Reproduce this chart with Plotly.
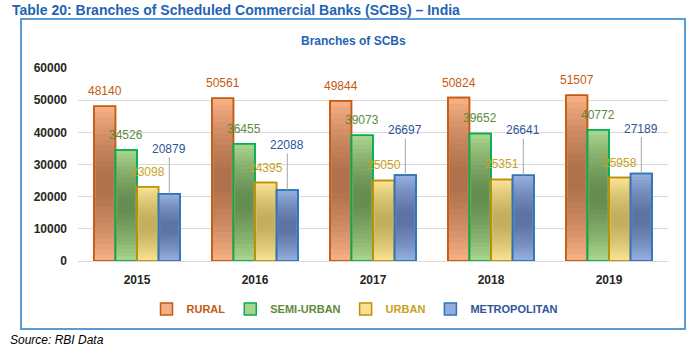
import plotly.graph_objects as go

years = ["2015", "2016", "2017", "2018", "2019"]
series_names = ["RURAL", "SEMI-URBAN", "URBAN", "METROPOLITAN"]
rural = [48140, 50561, 49844, 50824, 51507]
semi_urban = [34526, 36455, 39073, 39652, 40772]
urban = [23098, 24395, 25050, 25351, 25958]
metropolitan = [20879, 22088, 26697, 26641, 27189]
y_ticks = [0, 10000, 20000, 30000, 40000, 50000, 60000]

series_values = [rural, semi_urban, urban, metropolitan]
fills = ["#F5AD82", "#A8D38C", "#F8E194", "#93AEDE"]
shades = ["120,60,30", "50,90,40", "150,130,50", "50,70,120"]
borders = ["#C55A11", "#00B050", "#BF9000", "#2E75B6"]
label_colors = ["#C55A11", "#5E8A3A", "#C9A020", "#2F5597"]

W, H = 695, 352
L, R, T, B = 78, 27, 68, 91
pw, ph = W - L - R, H - T - B
bargap = 0.27
FONT = "Liberation Sans, Arial"

def px_x(px):
    return (px - L) / pw

def px_y(py):
    return (H - B - py) / ph

n = len(series_names)
gw = 1 - bargap
bw = gw / n
xi = list(range(len(years)))

# shading layers (style only): (height fraction, width fraction)
NL = 12
layers = [(0.92 - k * 0.07, 1.0 - k * 0.02) for k in range(NL)]

fig = go.Figure()
for i, (name, vals, f, b, lc, sh) in enumerate(zip(series_names, series_values, fills, borders, label_colors, shades)):
    left = -gw / 2 + i * bw
    fig.add_trace(go.Bar(
        x=xi, y=vals, offset=left, width=bw,
        name=f"<span style='color:{lc}'><b>{name}</b></span>",
        marker=dict(color=f, line=dict(color=b, width=1.5)),
        hoverinfo="y",
    ))
    for hf, wf in layers:
        fig.add_trace(go.Bar(
            x=xi, y=[v * hf for v in vals], base=[v * (0.5 - hf / 2) for v in vals],
            offset=left + bw * (1 - wf) / 2, width=bw * wf,
            marker=dict(color=f"rgba({sh},0.06)", line=dict(width=0)),
            showlegend=False, hoverinfo="skip",
        ))
    fig.add_trace(go.Bar(
        x=xi, y=vals, offset=left, width=bw,
        marker=dict(color="rgba(0,0,0,0)", line=dict(color=b, width=1.5)),
        showlegend=False, hoverinfo="skip",
    ))

annotations = []
for i, (vals, lc) in enumerate(zip(series_values, label_colors)):
    off = -gw / 2 + (i + 0.5) * bw
    for j, v in enumerate(vals):
        if i == n - 1:
            annotations.append(dict(
                x=j + off, y=v, xref="x", yref="y", text=str(v),
                showarrow=True, arrowhead=0, arrowwidth=1, arrowcolor="#A6A6A6",
                ax=0, ay=-45, standoff=0,
                font=dict(size=12, color=lc, family=FONT),
            ))
        else:
            annotations.append(dict(
                x=j + off, y=v, xref="x", yref="y", text=str(v),
                showarrow=False, yanchor="middle", yshift=15,
                font=dict(size=12, color=lc, family=FONT),
            ))

annotations.append(dict(
    x=px_x(10), y=px_y(10), xref="paper", yref="paper", xanchor="left", yanchor="middle",
    text="<b>Table 20: Branches of Scheduled Commercial Banks (SCBs) – India</b>",
    showarrow=False,
    font=dict(size=14, color="#1F64B4", family=FONT),
))
annotations.append(dict(
    x=px_x(353), y=px_y(41), xref="paper", yref="paper", xanchor="center", yanchor="middle",
    text="<b>Branches of SCBs</b>", showarrow=False,
    font=dict(size=12, color="#1F64B4", family=FONT),
))
annotations.append(dict(
    x=px_x(8), y=px_y(340), xref="paper", yref="paper", xanchor="left", yanchor="middle",
    text="<i>Source: RBI Data</i>", showarrow=False,
    font=dict(size=12, color="#000000", family=FONT),
))

shapes = [dict(
    type="rect", xref="paper", yref="paper",
    x0=px_x(21), x1=px_x(685), y0=px_y(329), y1=px_y(19),
    line=dict(color="#5B9BD5", width=2), fillcolor="rgba(0,0,0,0)", layer="below",
)]

fig.update_layout(
    width=W, height=H,
    margin=dict(l=L, r=R, t=T, b=B),
    paper_bgcolor="white", plot_bgcolor="white",
    barmode="overlay",
    annotations=annotations, shapes=shapes,
    showlegend=True,
    legend=dict(
        orientation="h", x=px_x(355), xanchor="center", y=px_y(309), yanchor="middle",
        font=dict(size=11, family=FONT), itemwidth=30,
        traceorder="normal",
    ),
    font=dict(family=FONT),
)
fig.update_yaxes(
    range=[0, 60000], tickvals=y_ticks, ticktext=[f"<b>{t}</b>" for t in y_ticks],
    showgrid=True, gridcolor="#D9D9D9", gridwidth=1, zeroline=False, showline=False,
    tickfont=dict(size=12, color="#262626", family=FONT),
    ticklabelstandoff=10,
)
fig.update_xaxes(
    range=[-0.5, len(years) - 0.5],
    tickvals=xi, ticktext=[f"<b>{y}</b>" for y in years],
    showline=True, linecolor="#D9D9D9", linewidth=1, showgrid=False, zeroline=False,
    tickfont=dict(size=12, color="#262626", family=FONT),
    ticklabelstandoff=8,
)

fig.write_html("out.html")
